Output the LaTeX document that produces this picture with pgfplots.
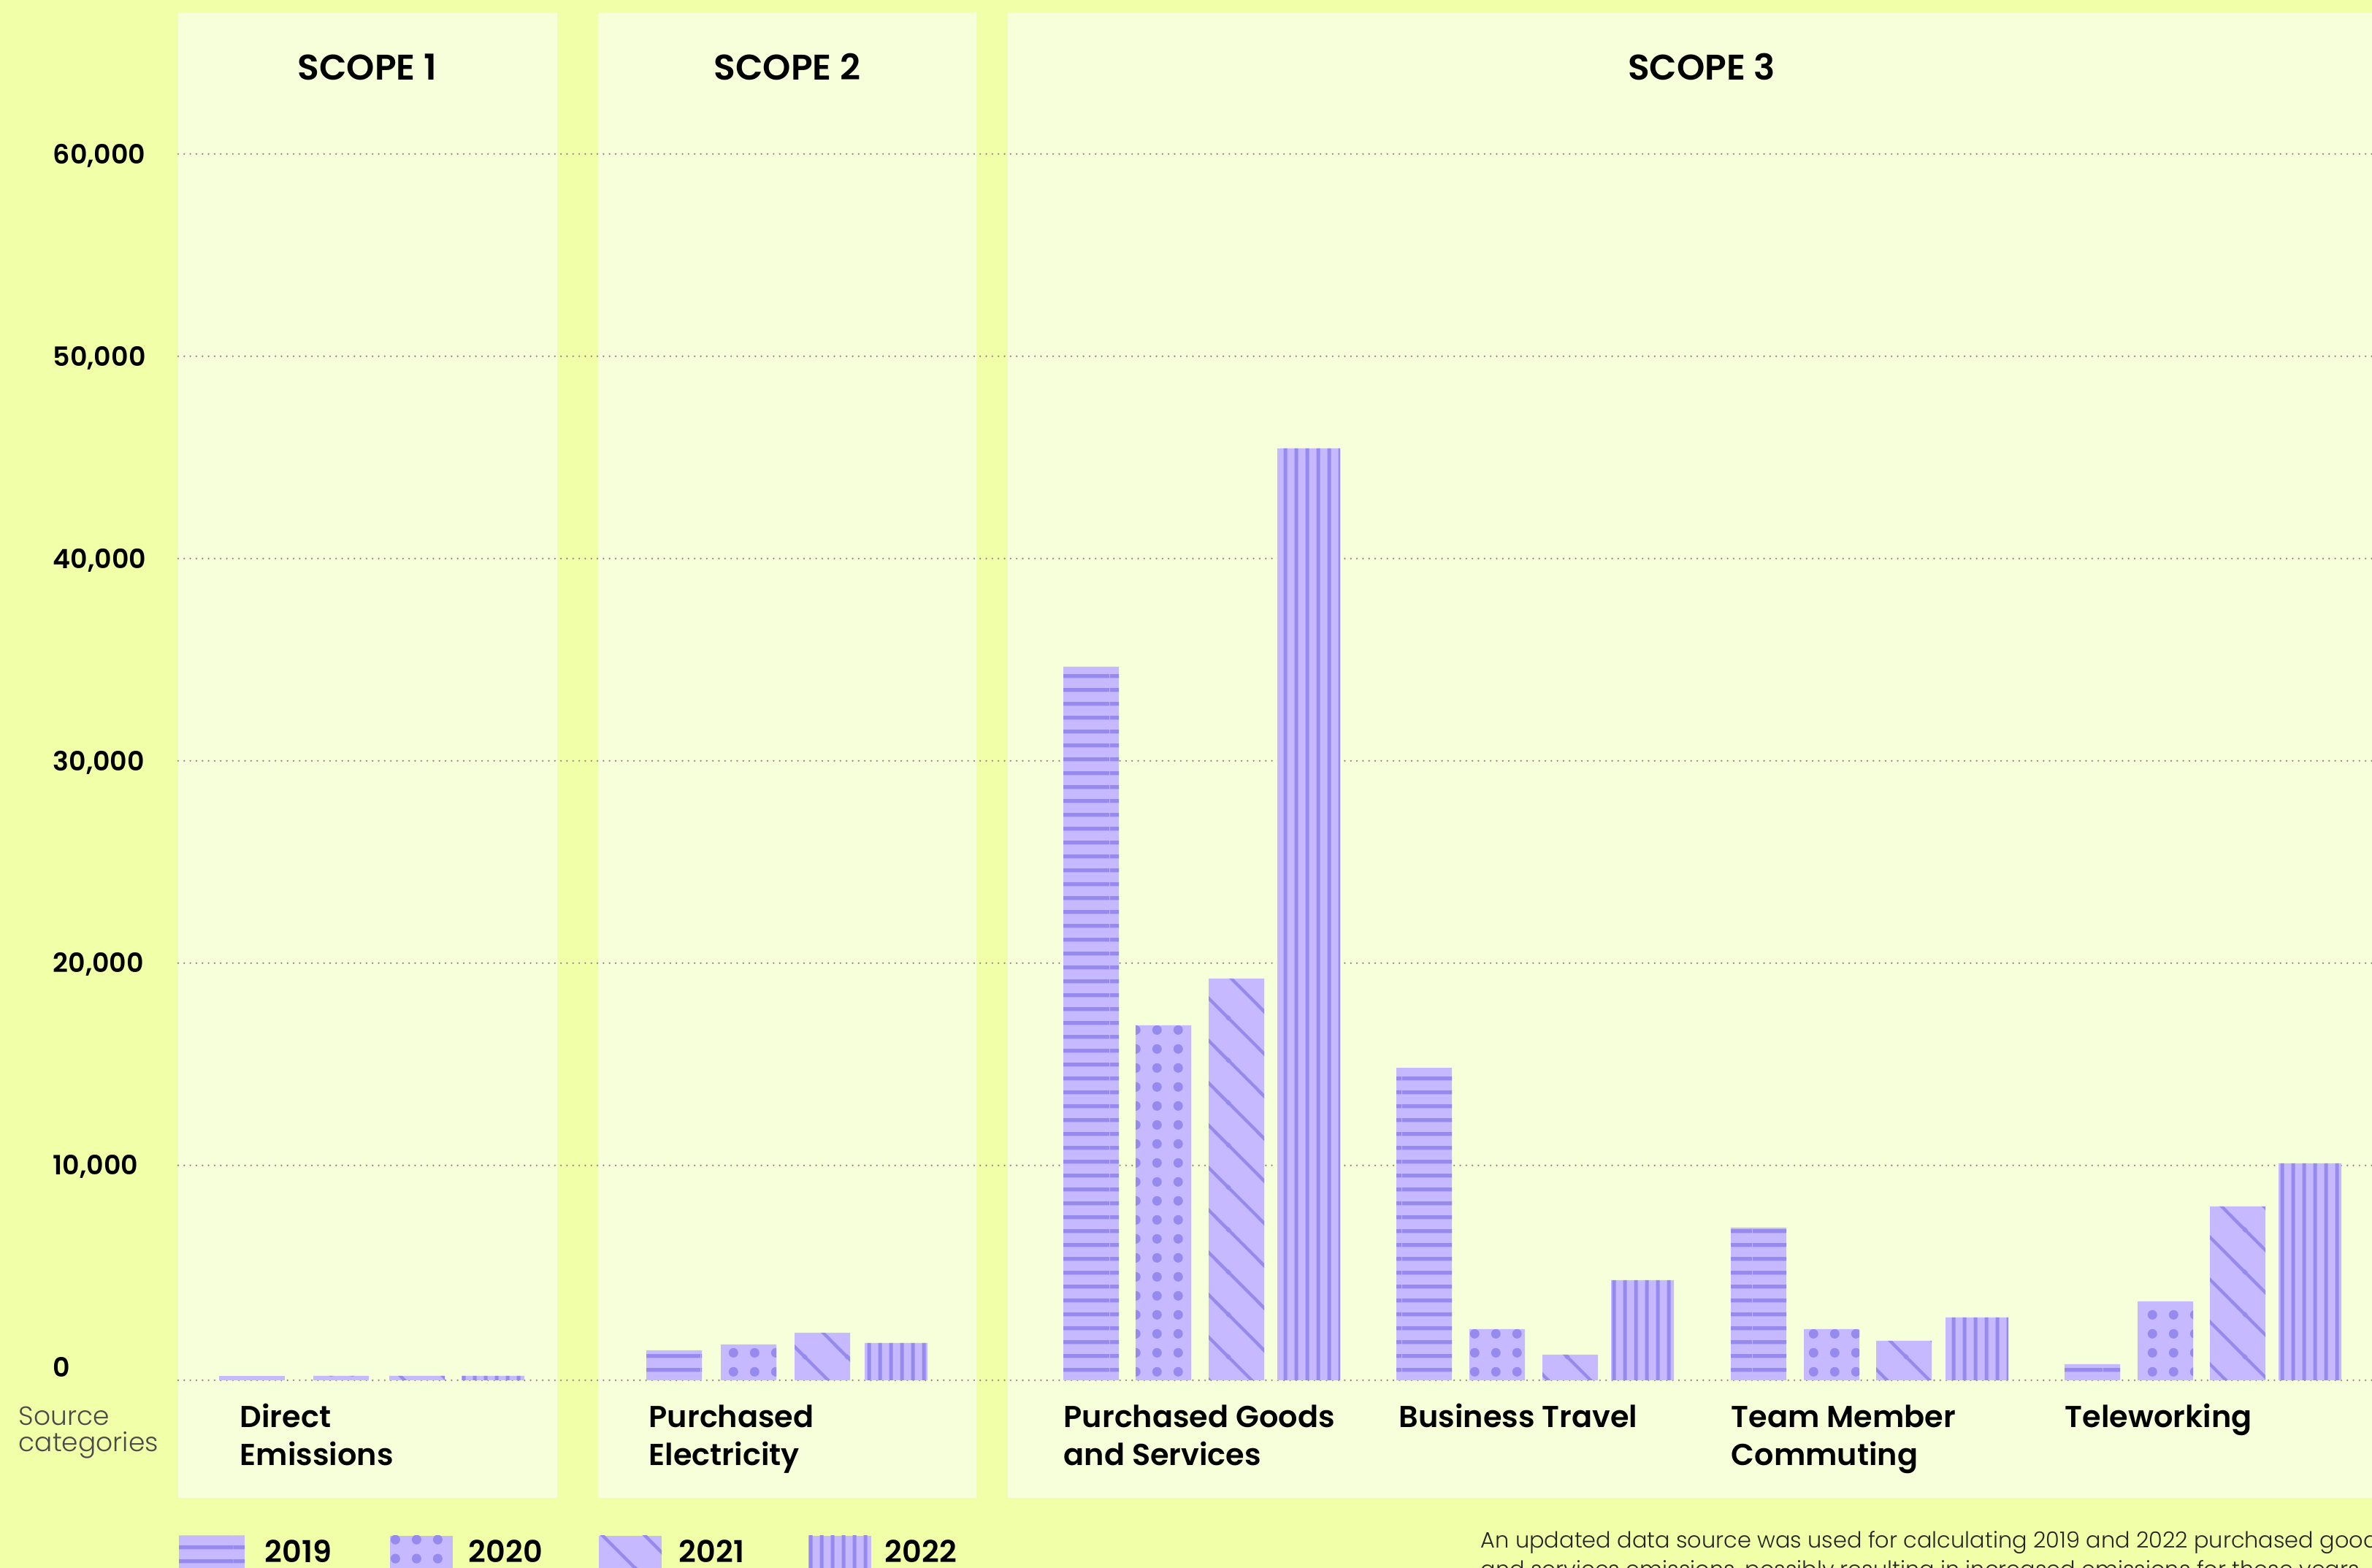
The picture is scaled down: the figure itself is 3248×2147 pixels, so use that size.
\documentclass[border=0pt]{standalone}
\usepackage{pgfplots}
\pgfplotsset{compat=1.18}
\usetikzlibrary{patterns.meta}
\usepackage{fontspec}
\setmainfont{Poppins}[BoldFont={Poppins SemiBold}]
\newfontfamily\lightfont{Poppins Light}

\definecolor{bgout}{HTML}{F0FFA8}
\definecolor{panel}{HTML}{F6FFDA}
\definecolor{barfill}{HTML}{C6B9FF}
\definecolor{patc}{HTML}{978AEE}
\definecolor{gridgray}{HTML}{8C8C8C}
\definecolor{srcgray}{HTML}{4A4A4A}

\tikzdeclarepattern{
  name=hstripe, type=uncolored,
  bounding box={(0pt,0pt) and (20pt,4.675pt)},
  tile size={(20pt,4.675pt)},
  code={\fill (0pt,1.67pt) rectangle (20pt,3pt);}
}
\tikzdeclarepattern{
  name=dotpat, type=uncolored,
  bounding box={(0pt,0pt) and (7.33pt,6.42pt)},
  tile size={(7.33pt,6.42pt)},
  code={\fill (3.665pt,3.21pt) circle (1.65pt);}
}
\tikzdeclarepattern{
  name=diagpat, type=uncolored,
  bounding box={(0pt,0pt) and (14.5pt,14.5pt)},
  tile size={(14.5pt,14.5pt)},
  code={\draw[line width=1.1pt] (-1pt,15.5pt) -- (15.5pt,-1pt);
        \draw[line width=1.1pt] (-1pt,1pt) -- (1pt,-1pt);
        \draw[line width=1.1pt] (13.5pt,15.5pt) -- (15.5pt,13.5pt);}
}
\tikzdeclarepattern{
  name=vstripe, type=uncolored,
  bounding box={(0pt,0pt) and (3.83pt,20pt)},
  tile size={(3.83pt,20pt)},
  code={\fill (1.2pt,0pt) rectangle (2.53pt,20pt);}
}

\begin{document}
\begin{tikzpicture}[x=0.25pt,y=0.25pt]
\useasboundingbox (0,0) rectangle (3248,2147);
\clip (0,0) rectangle (3248,2147);
\fill[bgout] (0,0) rectangle (3248,2147);
\fill[panel] (244,96) rectangle (763,2130);
\fill[panel] (819,96) rectangle (1337,2130);
\fill[panel] (1380,96) rectangle (3300,2130);

\begin{axis}[
  at={(61pt,64.25pt)}, anchor=south west, scale only axis,
  width=751pt, height=429.35pt,
  xmin=244, xmax=3248, ymin=0, ymax=62000,
  axis line style={draw=none}, major tick length=0pt,
  xtick=\empty,
  scaled y ticks=false,
  ytick={0,10620,20620,30620,40620,50620,60620},
  yticklabels={,{10,000},{20,000},{30,000},{40,000},{50,000},{60,000}},
  extra y ticks={620}, extra y tick labels={0},
  extra y tick style={grid=none},
  ymajorgrids,
  major grid style={gridgray, line width=0.65pt, line cap=round, dash pattern=on 0pt off 2.08pt},
  yticklabel style={font=\bfseries\fontsize{9.1}{10}\selectfont, anchor=base west, inner sep=0pt, xshift=-43pt, yshift=-3.3pt},
  clip=false,
]
% 2019
\addplot[ybar, bar shift=0pt, bar width=76, draw=none, fill=barfill,
  postaction={pattern color=patc, pattern=hstripe}]
  coordinates {(923,1480) (1494,35270) (1950,15450) (2408,7545) (2865,794)};
\addplot[ybar, bar shift=0pt, bar width=90, draw=none, fill=barfill,
  postaction={pattern color=patc, pattern=hstripe}]
  coordinates {(345,217)};
% 2020
\addplot[ybar, bar shift=0pt, bar width=76, draw=none, fill=barfill,
  postaction={pattern color=patc, pattern=dotpat}]
  coordinates {(467,217) (1025,1769) (1593,17545) (2050,2527) (2508,2527) (2965,3899)};
% 2021
\addplot[ybar, bar shift=0pt, bar width=76, draw=none, fill=barfill,
  postaction={pattern color=patc, pattern=diagpat}]
  coordinates {(571,217) (1126,2347) (1693,19856) (2150,1264) (2607,1949) (3064,8592)};
% 2022
\addplot[ybar, bar shift=0pt, bar width=86, draw=none, fill=barfill,
  postaction={pattern color=patc, pattern=vstripe}]
  coordinates {(675,217) (1227,1841) (1792,46065) (2249,4946) (2707,3105) (3163,10722)};
\end{axis}

% titles
\tikzset{ttl/.style={font=\bfseries\fontsize{12.2}{14}\selectfont, anchor=base, inner sep=0pt},
         cat/.style={font=\bfseries\fontsize{10.35}{13}\selectfont, anchor=base west, inner sep=0pt}}
\node[ttl] at (503,2037) {SCOPE 1};
\node[ttl] at (1078,2037) {SCOPE 2};
\node[ttl] at (2330,2037) {SCOPE 3};

% category labels
\node[cat] at (328,192) {Direct};
\node[cat] at (328,140) {Emissions};
\node[cat] at (888,192) {Purchased};
\node[cat] at (888,140) {Electricity};
\node[cat] at (1456,192) {Purchased Goods};
\node[cat] at (1456,140) {and Services};
\node[cat] at (1915,192) {Business Travel};
\node[cat] at (2370,192) {Team Member};
\node[cat] at (2370,140) {Commuting};
\node[cat] at (2827,192) {Teleworking};

\node[font=\lightfont\fontsize{9.0}{9}\selectfont, text=srcgray, anchor=base west, inner sep=0pt] at (25,195) {Source};
\node[font=\lightfont\fontsize{9.0}{9}\selectfont, text=srcgray, anchor=base west, inner sep=0pt] at (25,159) {categories};

% legend
\fill[barfill] (245,-20) rectangle (335,44);
\fill[pattern color=patc, pattern=hstripe] (245,-20) rectangle (335,44);
\node[cat] at (362,7) {2019};
\fill[barfill] (534,-20) rectangle (620,44);
\fill[pattern color=patc, pattern=dotpat] (534,-20) rectangle (620,44);
\node[cat] at (641,7) {2020};
\fill[barfill] (820,-20) rectangle (906,44);
\fill[pattern color=patc, pattern=diagpat] (820,-20) rectangle (906,44);
\node[cat] at (929,7) {2021};
\fill[barfill] (1107,-20) rectangle (1193,44);
\fill[pattern color=patc, pattern=vstripe] (1107,-20) rectangle (1193,44);
\node[cat] at (1211,7) {2022};

% footnote
\node[font=\lightfont\fontsize{7.6}{10}\selectfont, text=black!85, anchor=base west, inner sep=0pt] at (2027,27) {An updated data source was used for calculating 2019 and 2022 purchased goods};
\node[font=\lightfont\fontsize{7.6}{10}\selectfont, text=black!85, anchor=base west, inner sep=0pt] at (2027,-13) {and services emissions, possibly resulting in increased emissions for these years.};
\end{tikzpicture}
\end{document}
